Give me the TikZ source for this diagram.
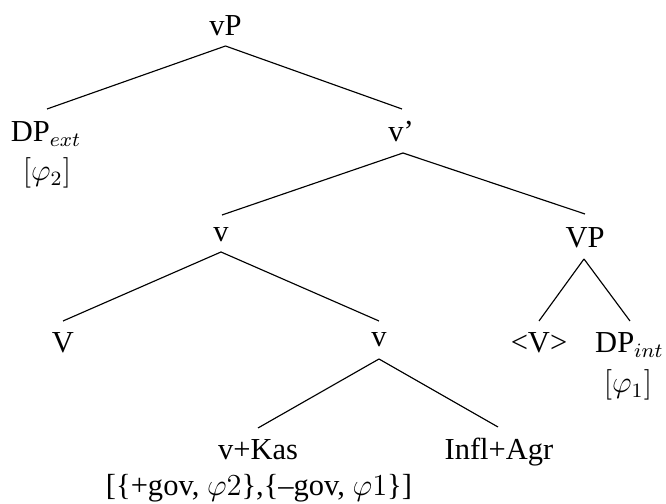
\documentclass[tikz,border=0pt]{standalone}
\usepackage{fontspec}
\setmainfont{Liberation Serif}
\usetikzlibrary{calc}
\begin{document}
\begin{tikzpicture}[x=0.3934pt,y=-0.3934pt,
  lbl/.style={anchor=base,inner sep=0pt,outer sep=0pt,font=\fontsize{12}{14}\selectfont},
  br/.style={line width=0.45pt}]
\useasboundingbox (0,0) rectangle (666,504);
% nodes
\node[lbl] (vP) at (225.5,36) {vP};
\node[lbl] (DPext) at (46,142) {DP$_{ext}$};
\node[lbl] (phiTwo) at (47,180.5) {$[\varphi_2]$};
\node[lbl] (vbar) at (401,142) {v’};
\node[lbl] (vmid) at (221,242) {v};
\node[lbl] (VP) at (585,248) {VP};
\node[lbl] (V) at (63,353) {V};
\node[lbl] (vlow) at (379,347) {v};
\node[lbl] (Vtrace) at (539,353) {<V>};
\node[lbl] (DPint) at (629.5,353) {DP$_{int}$};
\node[lbl] (phiOne) at (628,393) {$[\varphi_1]$};
\node[lbl] (vKas) at (258,460) {v+Kas};
\node[lbl] (Infl) at (499,460) {Infl+Agr};
\node[lbl] (feat) at (259,496) {[\{+gov, $\varphi 2$\},\{–gov, $\varphi 1$\}]};
% branches
\draw[br] ($(vP.base)+(0,10)$) -- ($(DPext.base)+(1,-33)$);
\draw[br] ($(vP.base)+(0,10)$) -- ($(vbar.base)+(1,-33)$);
\draw[br] ($(vbar.base)+(2,11)$) -- ($(vmid.base)+(1,-27)$);
\draw[br] ($(vbar.base)+(2,11)$) -- ($(VP.base)+(0,-34)$);
\draw[br] ($(vmid.base)+(0,10)$) -- ($(V.base)+(0,-32)$);
\draw[br] ($(vmid.base)+(0,10)$) -- ($(vlow.base)+(0,-26)$);
\draw[br] ($(VP.base)+(-1,11)$) -- ($(Vtrace.base)+(0,-32)$);
\draw[br] ($(VP.base)+(-1,11)$) -- ($(DPint.base)+(0.5,-32)$);
\draw[br] ($(vlow.base)+(0,12)$) -- ($(vKas.base)+(0,-32)$);
\draw[br] ($(vlow.base)+(0,12)$) -- ($(Infl.base)+(-1,-33)$);
\end{tikzpicture}
\end{document}
